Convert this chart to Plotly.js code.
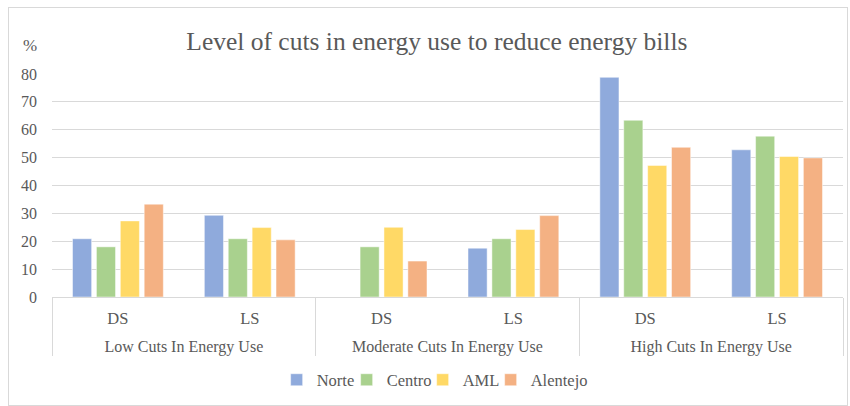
<!DOCTYPE html>
<html>
<head>
<meta charset="utf-8">
<script src="https://cdn.plot.ly/plotly-3.0.1.min.js"></script>
<style>
html,body{margin:0;padding:0;background:#fff;}
#chart{width:850px;height:406px;position:relative;}
#frame{position:absolute;left:8px;top:7px;width:838px;height:397px;border:1px solid #d9d9d9;pointer-events:none;}
</style>
</head>
<body>
<div id="chart"></div>
<div id="frame"></div>
<script>
var groupLabels = ["Low Cuts In Energy Use","Moderate Cuts In Energy Use","High Cuts In Energy Use"];
var categories = ["Low DS","Low LS","Moderate DS","Moderate LS","High DS","High LS"];
var subLabels = ["DS","LS","DS","LS","DS","LS"];
var seriesNames = ["Norte","Centro","AML","Alentejo"];
var norte = [20.9, 29.3, 0, 17.5, 78.8, 52.8];
var centro = [18.0, 20.9, 18.0, 20.9, 63.4, 57.7];
var aml = [27.3, 24.9, 25.0, 24.2, 47.2, 50.4];
var alentejo = [33.3, 20.5, 12.9, 29.2, 53.7, 49.9];
var colors = ["#8FAADC","#A9D18E","#FFD966","#F4B183"];
var values = [norte, centro, aml, alentejo];
var legendWidths = [25, 31, 23, 60];

var font = "'Liberation Serif', 'Times New Roman', serif";
var grey = "#595959";
var traces = values.map(function(v, i){
  return {
    type: "bar",
    name: seriesNames[i],
    x: categories,
    y: v,
    legendwidth: legendWidths[i],
    marker: {color: colors[i], line: {color: "rgba(255,255,255,0.6)", width: 0.8}},
    hoverinfo: "none"
  };
});
// helper trace so the group-label axis is drawn
traces.push({type: "scatter", x: [], y: [], xaxis: "x2", yaxis: "y", showlegend: false, hoverinfo: "none"});

var n = categories.length;
var groupCenters = [];
var dividers = [-0.5];
for (var g = 0; g < groupLabels.length; g++) {
  groupCenters.push(g * 2 + 0.5);
  dividers.push(g * 2 + 1.5);
}

var layout = {
  width: 850, height: 406,
  margin: {l: 52, r: 7, t: 74, b: 109},
  paper_bgcolor: "#fff", plot_bgcolor: "#fff",
  font: {family: font, color: grey, size: 16},
  title: {text: "Level of cuts in energy use to reduce energy bills", font: {family: font, size: 25.5, color: grey}, x: 0.514, xanchor: "center", y: 0.9, yanchor: "middle"},
  barmode: "group",
  bargap: 0.275,
  bargroupgap: 0.2,
  showlegend: true,
  legend: {orientation: "h", x: 0.284, xanchor: "left", yref: "container", y: 0.064, yanchor: "middle", font: {family: font, size: 16.5, color: grey}, itemwidth: 30, tracegroupgap: 0},
  xaxis: {
    type: "category", automargin: false,
    tickmode: "array", tickvals: categories, ticktext: subLabels,
    showline: true, linecolor: "#d9d9d9", linewidth: 1,
    tickfont: {family: font, size: 16.5, color: grey},
    showgrid: false, ticks: "", ticklabelstandoff: 6
  },
  xaxis2: {
    overlaying: "x", anchor: "y", side: "bottom", automargin: false,
    range: [-0.5, n - 0.5], showgrid: false, zeroline: false, showline: false,
    tickmode: "array", tickvals: groupCenters, ticktext: groupLabels,
    ticks: "", ticklabelstandoff: 38,
    tickfont: {family: font, size: 16, color: grey},
    minor: {tickmode: "array", tickvals: dividers, ticks: "outside", ticklen: 58, tickwidth: 1, tickcolor: "#d9d9d9", showgrid: false}
  },
  yaxis: {
    range: [0, 80], dtick: 10, tick0: 0, automargin: false,
    showgrid: true, gridcolor: "#d9d9d9", gridwidth: 1,
    zeroline: false, showline: false, ticks: "",
    tickfont: {family: font, size: 16, color: grey},
    ticklabelstandoff: 14
  },
  annotations: [{
    text: "%", xref: "paper", yref: "paper", x: -0.028, y: 1.13, xanchor: "center", yanchor: "middle",
    showarrow: false, font: {family: font, size: 17, color: grey}
  }]
};

Plotly.newPlot("chart", traces, layout, {displayModeBar: false, staticPlot: true});
</script>
</body>
</html>
